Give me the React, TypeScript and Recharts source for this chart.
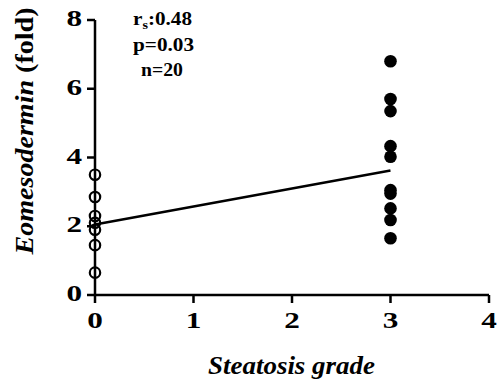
import React from 'react';
import {
  ScatterChart,
  Scatter,
  XAxis,
  YAxis,
  ReferenceLine,
  Label,
} from 'recharts';

const X_TICKS = [0, 1, 2, 3, 4];
const Y_TICKS = [0, 2, 4, 6, 8];

// grade 0 (open circles) and grade 3 (filled circles)
const grade0 = [3.5, 2.85, 2.3, 2.1, 1.9, 1.45, 0.65];
const grade3 = [6.8, 5.7, 5.35, 4.33, 4.02, 3.05, 2.95, 2.52, 2.18, 1.65];

// fitted line end points
const fitX = [0, 3];
const fitY = [2.05, 3.62];

const stats = ['p=0.03', 'n=20'];

const open = grade0.map((y) => ({ x: 0, y }));
const filled = grade3.map((y) => ({ x: 3, y }));

const FONT = 'Liberation Serif';

const OpenDot = (props: any) => (
  <circle cx={props.cx} cy={props.cy} r={5.2} fill="none" stroke="#000" strokeWidth={2.2} />
);
const FilledDot = (props: any) => <circle cx={props.cx} cy={props.cy} r={6.3} fill="#000" />;

// bold serif digits, a bit wider than the stock font
const XTick = (props: any) => (
  <text
    transform={`translate(${props.x},${props.y + 25}) scale(1.3,1)`}
    textAnchor="middle"
    fontFamily={FONT}
    fontWeight="bold"
    fontSize={24}
    fill="#000"
  >
    {props.payload.value}
  </text>
);

const YTick = (props: any) => (
  <text
    transform={`translate(${props.x - 5},${props.y + 6}) scale(1.3,1)`}
    textAnchor="end"
    fontFamily={FONT}
    fontWeight="bold"
    fontSize={24}
    fill="#000"
  >
    {props.payload.value}
  </text>
);

const XLabel = () => (
  <text
    x={208}
    y={374}
    textLength={167}
    lengthAdjust="spacingAndGlyphs"
    fontFamily={FONT}
    fontWeight="bold"
    fontStyle="italic"
    fontSize={25}
    fill="#000"
  >
    Steatosis grade
  </text>
);

const YLabel = () => (
  <text
    x={-123.5}
    y={0}
    transform="translate(33,131) rotate(-90)"
    textLength={247}
    lengthAdjust="spacingAndGlyphs"
    fontFamily={FONT}
    fontWeight="bold"
    fontSize={26}
    fill="#000"
  >
    <tspan fontStyle="italic">Eomesodermin</tspan>
    <tspan> (fold)</tspan>
  </text>
);

const Stats = () => (
  <g fontFamily={FONT} fontWeight="bold" fontSize={18} fill="#000">
    <text x={133} y={25} textLength={59} lengthAdjust="spacingAndGlyphs">
      r<tspan fontSize={12} dy={4}>s</tspan>
      <tspan dy={-4}>:0.48</tspan>
    </text>
    <text x={133} y={51} textLength={61} lengthAdjust="spacingAndGlyphs">
      {stats[0]}
    </text>
    <text x={141} y={76} textLength={42} lengthAdjust="spacingAndGlyphs">
      {stats[1]}
    </text>
  </g>
);

export default function App() {
  return (
    <div style={{ position: 'absolute', left: 0, top: 0, width: 503, height: 387, background: '#fff' }}>
      <ScatterChart width={503} height={387} margin={{ top: 20, right: 14, bottom: 0, left: 0 }}>
        <XAxis
          type="number"
          dataKey="x"
          domain={[0, 4]}
          ticks={X_TICKS}
          stroke="#000"
          strokeWidth={2.5}
          tickSize={8}
          tickMargin={0}
          height={92}
          tick={<XTick />}
        >
          <Label content={<XLabel />} />
        </XAxis>
        <YAxis
          type="number"
          dataKey="y"
          domain={[0, 8]}
          ticks={Y_TICKS}
          stroke="#000"
          strokeWidth={2.5}
          tickSize={8}
          tickMargin={0}
          width={95}
          tick={<YTick />}
        >
          <Label content={<YLabel />} />
        </YAxis>
        <ReferenceLine
          segment={[
            { x: fitX[0], y: fitY[0] },
            { x: fitX[1], y: fitY[1] },
          ]}
          stroke="#000"
          strokeWidth={2.5}
          ifOverflow="visible"
        />
        <Scatter data={open} shape={<OpenDot />} isAnimationActive={false} />
        <Scatter data={filled} shape={<FilledDot />} isAnimationActive={false} />
        <Label content={<Stats />} />
      </ScatterChart>
    </div>
  );
}
